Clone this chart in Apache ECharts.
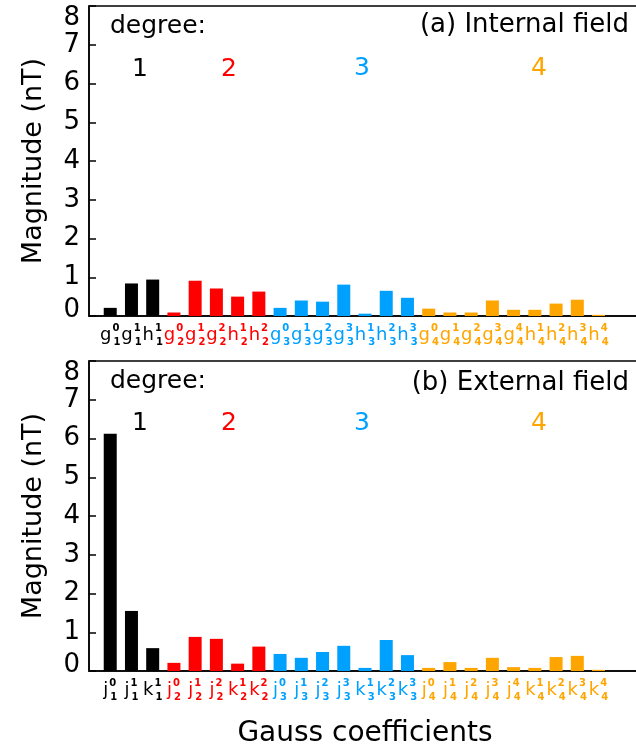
<!DOCTYPE html>
<html>
<head>
<meta charset="utf-8">
<script src="https://cdn.jsdelivr.net/npm/echarts@6/dist/echarts.min.js"></script>
<style>html,body{margin:0;padding:0;background:#fff}#c{width:636px;height:748px}</style>
</head>
<body>
<div id="c"></div>
<script>
// ---- data ----
const internalLetters = ['g','g','h','g','g','g','h','h','g','g','g','g','h','h','h','g','g','g','g','g','h','h','h','h'];
const externalLetters = ['j','j','k','j','j','j','k','k','j','j','j','j','k','k','k','j','j','j','j','j','k','k','k','k'];
const degrees = [1,1,1,2,2,2,2,2,3,3,3,3,3,3,3,4,4,4,4,4,4,4,4,4];
const orders  = [0,1,1,0,1,2,1,2,0,1,2,3,1,2,3,0,1,2,3,4,1,2,3,4];
const internalValues = [0.21,0.84,0.94,0.09,0.91,0.71,0.50,0.63,0.21,0.40,0.37,0.81,0.06,0.65,0.47,0.19,0.09,0.09,0.40,0.16,0.16,0.32,0.42,0.03];
const externalValues = [6.12,1.55,0.59,0.21,0.88,0.83,0.19,0.63,0.44,0.34,0.49,0.65,0.08,0.80,0.41,0.08,0.23,0.08,0.34,0.10,0.08,0.36,0.39,0.03];
const degreeColors = {1:'#000000',2:'#ff0000',3:'#00a0ff',4:'#ffa500'};
const yTicks = [0,1,2,3,4,5,6,7,8];

const FONT = 'DejaVu Sans';

function buildCats(letters){
  const labels = letters.map((l,i)=>`{m${degrees[i]}|${l}}{p${degrees[i]}|${orders[i]}}{b${degrees[i]}|${degrees[i]}}`);
  return [''].concat(labels, ['','']);
}
function buildData(values){
  return [null].concat(values.map((v,i)=>({value:v,itemStyle:{color:degreeColors[degrees[i]]}})), [null,null]);
}
const rich = {};
[1,2,3,4].forEach(d=>{
  const c = degreeColors[d];
  rich['m'+d] = {fontFamily:FONT,fontSize:18,color:c,lineHeight:24,align:'left',verticalAlign:'middle'};
  rich['p'+d] = {fontFamily:FONT,fontSize:10,fontWeight:'bold',color:c,width:0,align:'left',verticalAlign:'top',padding:[0,0,0,1]};
  rich['b'+d] = {fontFamily:FONT,fontSize:10,fontWeight:'bold',color:c,align:'left',verticalAlign:'bottom',padding:[0,0,0,1]};
});

function xAxisFor(gi, letters, withName){
  const ax = {
    type:'category', gridIndex:gi, data:buildCats(letters), boundaryGap:false,
    axisLine:{show:true,lineStyle:{color:'#000',width:1.5}},
    axisTick:{show:false}, splitLine:{show:false},
    axisLabel:{interval:0, margin:7, rich:rich, formatter:v=>v}
  };
  if (withName){
    ax.name='Gauss coefficients'; ax.nameLocation='middle'; ax.nameGap=49;
    ax.nameTextStyle={fontFamily:FONT,fontSize:28,color:'#000'};
  }
  return ax;
}
function yAxisFor(gi){
  return {
    type:'value', gridIndex:gi, min:yTicks[0], max:yTicks[yTicks.length-1], interval:1,
    name:'Magnitude (nT)', nameLocation:'middle', nameRotate:90, nameGap:42,
    nameTextStyle:{fontFamily:FONT,fontSize:27,color:'#000'},
    axisLine:{show:true,lineStyle:{color:'#000',width:1.5}},
    axisTick:{show:true,inside:true,length:7,lineStyle:{color:'#000',width:1.5}},
    splitLine:{show:false},
    axisLabel:{
      color:'#000', margin:9, hideOverlap:false,
      formatter:v=> v===yTicks[yTicks.length-1] ? `{top|${v}}` : (v===yTicks[0] ? `{bot|${v}}` : `{n|${v}}`),
      rich:{
        n:{fontFamily:FONT,fontSize:26,color:'#000'},
        top:{fontFamily:FONT,fontSize:26,color:'#000',padding:[24,0,0,0]},
        bot:{fontFamily:FONT,fontSize:26,color:'#000',padding:[0,0,12,0]}
      }
    }
  };
}
function txt(x,y,s,color,align,size){
  return {type:'text',x:x,y:y,style:{text:s,fill:color,font:`${size||25}px "${FONT}"`,align:align||'left',verticalAlign:'middle'}};
}

const chart = echarts.init(document.getElementById('c'),null,{renderer:'canvas'});
chart.setOption({
  animation:false,
  backgroundColor:'#fff',
  grid:[
    {left:89,right:-5,top:6,height:310,outerBoundsMode:'none',containLabel:false,show:true,borderColor:'#000',borderWidth:1.5,backgroundColor:'transparent'},
    {left:89,right:-5,top:361,height:310,outerBoundsMode:'none',containLabel:false,show:true,borderColor:'#000',borderWidth:1.5,backgroundColor:'transparent'}
  ],
  xAxis:[xAxisFor(0,internalLetters,false), xAxisFor(1,externalLetters,true)],
  yAxis:[yAxisFor(0), yAxisFor(1)],
  series:[
    {type:'bar',xAxisIndex:0,yAxisIndex:0,data:buildData(internalValues),barWidth:13},
    {type:'bar',xAxisIndex:1,yAxisIndex:1,data:buildData(externalValues),barWidth:13}
  ],
  graphic:[
    txt(110,26,'degree:','#000'),
    txt(629,25,'(a) Internal field','#000','right',26),
    txt(140,69,'1',degreeColors[1],'center'),
    txt(229,69,'2',degreeColors[2],'center'),
    txt(362,68,'3',degreeColors[3],'center'),
    txt(539,68,'4',degreeColors[4],'center'),
    txt(110,381,'degree:','#000'),
    txt(629,383,'(b) External field','#000','right',26),
    txt(140,423,'1',degreeColors[1],'center'),
    txt(229,423,'2',degreeColors[2],'center'),
    txt(362,423,'3',degreeColors[3],'center'),
    txt(539,423,'4',degreeColors[4],'center')
  ]
});
</script>
</body>
</html>
